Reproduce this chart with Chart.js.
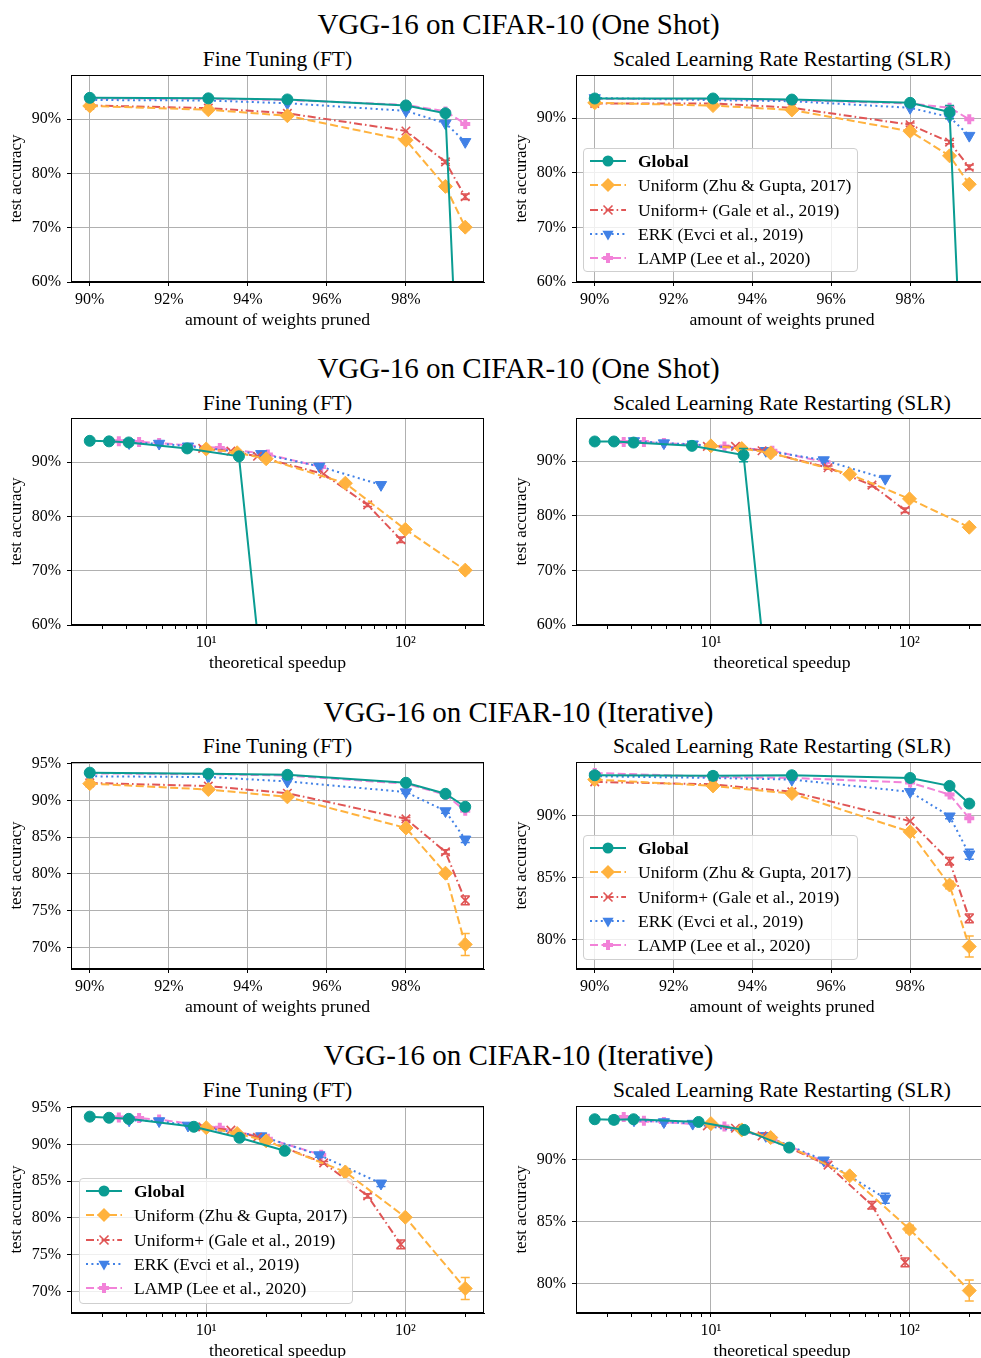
<!DOCTYPE html>
<html><head><meta charset="utf-8">
<script src="https://cdn.jsdelivr.net/npm/chart.js@4.4.0/dist/chart.umd.min.js"></script>
<style>
html,body{margin:0;padding:0;background:#fff;}
body{width:981px;height:1358px;position:relative;overflow:hidden;font-family:"Liberation Serif","DejaVu Serif",serif;color:#000;}
canvas{position:absolute;}
.sup{position:absolute;left:0;width:1037px;text-align:center;font-size:29px;line-height:32px;white-space:nowrap;}
.sub{position:absolute;text-align:center;font-size:21.5px;line-height:24px;white-space:nowrap;}
.legend{position:absolute;border:1px solid #cfcfcf;border-radius:4px;background:rgba(255,255,255,0.8);box-sizing:border-box;z-index:5;}
.legend .row{position:absolute;left:0;height:20px;width:100%;}
.legend svg{position:absolute;left:4px;top:2px;}
.legend span{position:absolute;left:54px;top:0;font-size:17.5px;line-height:20px;white-space:nowrap;}
</style></head>
<body>
<script>
// ---------------- data ----------------
const sparsity = [90, 93, 95, 98, 99, 99.5];
const methodNames = ['Global', 'Uniform (Zhu & Gupta, 2017)', 'Uniform+ (Gale et al., 2019)', 'ERK (Evci et al., 2019)', 'LAMP (Lee et al., 2020)'];

// theoretical speedup per method (x values of speedup plots)
const speedGlobalOneShot = [2.6, 3.25, 4.08, 8.03, 14.6, 24.8];
const speedGlobalIter    = [2.6, 3.25, 4.08, 8.67, 14.7, 24.8];
const speedUniform       = [10, 14.3, 20, 50, 100, 200];
const speedUniformPlus   = [9.6, 13.3, 18.1, 38.9, 64.7, 95];
const speedERK           = [4.1, 5.8, 8.1, 18.9, 37, 75.5];
const speedLAMP          = [3.64, 4.6, 5.8, 11.7, 20.4, 37.8];

// One shot, Fine Tuning
const osFTGlobal  = [93.9, 93.8, 93.6, 92.5, 91.05, 10];
const osFTUniform = [92.4, 91.7, 90.6, 86.1, 77.6, 70.1];
const osFTUniPlus = [92.5, 92.0, 91.05, 87.8, 82.1, 75.7];
const osFTERK     = [93.5, 93.4, 92.9, 91.5, 89.2, 85.8];
const osFTLAMP    = [93.8, 93.7, 93.5, 92.6, 91.4, 89.1];
const osFTErrUniform = [0, 0, 0, 0, 0.3, 0.5];
const osFTErrUniPlus = [0, 0, 0, 0, 0.3, 0.5];

// One shot, SLR
const osSLRGlobal  = [93.6, 93.6, 93.4, 92.8, 91.1, 10];
const osSLRUniform = [92.8, 92.3, 91.5, 87.6, 83.1, 77.9];
const osSLRUniPlus = [92.7, 92.7, 91.9, 88.8, 85.6, 81.0];
const osSLRERK     = [93.7, 93.3, 93.1, 91.9, 90.2, 86.8];
const osSLRLAMP    = [93.5, 93.5, 93.3, 92.7, 91.9, 89.8];
const osSLRErrGlobal  = [0, 0, 0, 0, 1.2, 0];
const osSLRErrUniPlus = [0, 0, 0, 0.3, 0.3, 0.4];

// Iterative, Fine Tuning
const itFTGlobal  = [93.8, 93.65, 93.5, 92.42, 90.92, 89.15];
const itFTUniform = [92.3, 91.5, 90.5, 86.26, 80.1, 70.4];
const itFTUniPlus = [92.4, 91.97, 91.0, 87.5, 83.0, 76.4];
const itFTERK     = [93.3, 93.2, 92.6, 91.15, 88.57, 84.7];
const itFTLAMP    = [93.7, 93.6, 93.4, 92.3, 90.8, 88.6];
const itFTErrUniform = [0, 0, 0, 0.3, 0.3, 1.5];
const itFTErrUniPlus = [0, 0, 0, 0.2, 0.3, 0.6];
const itFTErrERK     = [0, 0, 0, 0.2, 0.3, 0.4];

// Iterative, SLR
const itSLRGlobal  = [93.28, 93.23, 93.28, 93.06, 92.42, 90.99];
const itSLRUniform = [92.93, 92.42, 91.8, 88.71, 84.41, 79.44];
const itSLRUniPlus = [92.74, 92.55, 91.94, 89.57, 86.34, 81.72];
const itSLRERK     = [93.2, 93.06, 92.93, 91.94, 89.97, 86.9];
const itSLRLAMP    = [93.47, 93.15, 93.06, 92.69, 91.72, 89.8];
const itSLRErrGlobal  = [0, 0.3, 0, 0, 0, 0];
const itSLRErrUniform = [0, 0, 0, 0, 0.3, 0.85];
const itSLRErrUniPlus = [0, 0, 0, 0, 0.3, 0.35];
const itSLRErrERK     = [0, 0, 0, 0, 0.2, 0.4];

// tick labels
const pruneTicks = [90, 92, 94, 96, 98];
const speedTicks = [3, 4, 5, 6, 7, 8, 9, 10, 20, 30, 40, 50, 60, 70, 80, 90, 100, 200];
const speedMajorLabels = {10: '10\u00B9', 100: '10\u00B2'};
const yTicksOneShot = [60, 70, 80, 90];
const yTicksIterFT  = [70, 75, 80, 85, 90, 95];
const yTicksIterSLR = [80, 85, 90];

// ---------------- styles ----------------
const styles = [
  {color: '#0a9c92', dash: [], pointStyle: 'circle', radius: 5.5, rot: 0, pbw: 1},
  {color: '#ffb23e', dash: [8, 3.5], pointStyle: 'rectRot', radius: 7, rot: 0, pbw: 1},
  {color: '#e05555', dash: [8, 3, 1.6, 3], pointStyle: 'crossRot', radius: 6, rot: 0, pbw: 1.6},
  {color: '#4181e6', dash: [2, 3.4], pointStyle: 'triangle', radius: 6.5, rot: 180, pbw: 1},
  {color: '#f282d8', dash: [8, 3.5], pointStyle: 'cross', radius: 5, rot: 0, pbw: 4}
];

Chart.defaults.font.family = '"Liberation Serif", "DejaVu Serif", serif';
Chart.defaults.color = '#000';

const framePlugin = {
  id: 'frame',
  afterDraw(chart) {
    const {ctx, chartArea: a} = chart;
    ctx.save();
    ctx.strokeStyle = '#000';
    ctx.lineWidth = 1;
    const l = Math.round(a.left) + 0.5, t = Math.round(a.top) + 0.5;
    const r = Math.round(a.right) - 0.5, b = Math.round(a.bottom) - 0.5;
    ctx.strokeRect(l, t, r - l, b - t);
    ctx.restore();
  }
};

const errPlugin = {
  id: 'errbars',
  afterDatasetDraw(chart, args) {
    const ds = chart.data.datasets[args.index];
    if (!ds.err) return;
    const {ctx, chartArea: a} = chart;
    const xs = chart.scales.x, ys = chart.scales.y;
    ctx.save();
    ctx.beginPath();
    ctx.rect(a.left, a.top, a.right - a.left, a.bottom - a.top);
    ctx.clip();
    ctx.strokeStyle = ds.borderColor;
    ctx.lineWidth = 1.5;
    ctx.setLineDash([]);
    ds.data.forEach((p, j) => {
      const e = ds.err[j];
      if (!e) return;
      const px = xs.getPixelForValue(p.x);
      const y1 = ys.getPixelForValue(p.y - e), y2 = ys.getPixelForValue(p.y + e);
      ctx.beginPath();
      ctx.moveTo(px, y1); ctx.lineTo(px, y2);
      ctx.moveTo(px - 4.5, y1); ctx.lineTo(px + 4.5, y1);
      ctx.moveTo(px - 4.5, y2); ctx.lineTo(px + 4.5, y2);
      ctx.stroke();
    });
    ctx.restore();
  }
};

const PLOT_H = 207, PAD_T = 10, AXIS_H = 50;

function addText(cls, text, left, top, width) {
  const d = document.createElement('div');
  d.className = cls; d.textContent = text;
  d.style.top = top + 'px';
  d.style.left = left + 'px'; d.style.width = width + 'px';
  document.body.appendChild(d);
}

function makeChart(p) {
  const cv = document.createElement('canvas');
  const W = p.col === 0 ? 494 : 493;
  const H = PAD_T + PLOT_H + AXIS_H;
  const left = p.col === 0 ? 0 : 505;
  cv.width = W; cv.height = H;
  cv.style.left = left + 'px'; cv.style.top = (p.top - PAD_T) + 'px';
  cv.style.width = W + 'px'; cv.style.height = H + 'px';
  document.body.appendChild(cv);

  const isSpeed = p.kind === 'speed';
  const xArrays = isSpeed ? [p.globalSpeed, speedUniform, speedUniformPlus, speedERK, speedLAMP]
                          : [sparsity, sparsity, sparsity, sparsity, sparsity];
  const datasets = methodNames.map((name, i) => {
    const s = styles[i];
    return {
      label: name,
      data: p.acc[i].map((v, j) => ({x: xArrays[i][j], y: v})),
      err: p.err[i],
      borderColor: s.color,
      backgroundColor: s.color,
      borderWidth: 2,
      borderDash: s.dash,
      tension: 0,
      fill: false,
      pointStyle: s.pointStyle,
      pointRadius: s.radius,
      pointRotation: s.rot,
      pointBackgroundColor: s.color,
      pointBorderColor: s.color,
      pointBorderWidth: s.pbw
    };
  });

  const xScale = isSpeed ? {
    type: 'logarithmic', min: 2.093, max: 248.5,
    afterBuildTicks: sc => { sc.ticks = speedTicks.map(v => ({value: v, major: !!speedMajorLabels[v]})); },
    ticks: {autoSkip: false, maxRotation: 0, padding: 4, font: {size: 16},
            callback: v => speedMajorLabels[v] || ''},
    grid: {color: c => (c.tick && c.tick.major) ? '#b0b0b0' : 'rgba(0,0,0,0)', lineWidth: 1,
           tickColor: '#000', tickLength: 4, drawTicks: true},
  } : {
    type: 'linear', min: 89.525, max: 99.975,
    afterBuildTicks: sc => { sc.ticks = pruneTicks.map(v => ({value: v})); },
    ticks: {autoSkip: false, maxRotation: 0, padding: 4, font: {size: 16}, callback: v => v + '%'},
    grid: {color: '#b0b0b0', lineWidth: 1, tickColor: '#000', tickLength: 4, drawTicks: true},
  };
  Object.assign(xScale, {
    border: {display: true, color: '#000', width: 1},
    title: {display: true, text: isSpeed ? 'theoretical speedup' : 'amount of weights pruned',
            font: {size: 17.7}, padding: {top: 0, bottom: 1}},
    afterFit: sc => { sc.height = AXIS_H; sc.paddingLeft = 0; sc.paddingRight = 0; }
  });

  new Chart(cv, {
    type: 'line',
    data: {datasets},
    options: {
      responsive: false, animation: false,
      layout: {padding: {top: PAD_T, right: 10, left: 0, bottom: 0}},
      plugins: {legend: {display: false}, tooltip: {enabled: false}},
      scales: {
        x: xScale,
        y: {
          type: 'linear', min: p.yMin, max: p.yMax,
          afterBuildTicks: sc => { sc.ticks = p.yTicks.map(v => ({value: v})); },
          ticks: {autoSkip: false, padding: 6, font: {size: 16}, callback: v => v + '%'},
          grid: {color: '#b0b0b0', lineWidth: 1, tickColor: '#000', tickLength: 4, drawTicks: true},
          border: {display: true, color: '#000', width: 1},
          title: {display: true, text: 'test accuracy', font: {size: 17}, padding: {top: 6, bottom: 0}},
          afterFit: sc => { sc.width = 71; sc.paddingTop = 0; sc.paddingBottom = 0; }
        }
      }
    },
    plugins: [framePlugin, errPlugin]
  });
}

function makeLegend(left, top, w, h) {
  const box = document.createElement('div');
  box.className = 'legend';
  box.style.left = left + 'px'; box.style.top = top + 'px';
  box.style.width = w + 'px'; box.style.height = h + 'px';
  methodNames.forEach((name, i) => {
    const s = styles[i];
    const row = document.createElement('div');
    row.className = 'row';
    row.style.top = (2 + i * 24.3) + 'px';
    const dash = s.dash.length ? s.dash.join(',') : 'none';
    let marker = '';
    const c = s.color;
    if (i === 0) marker = `<circle cx="20" cy="8" r="5.5" fill="${c}"/>`;
    if (i === 1) marker = `<polygon points="20,1 27,8 20,15 13,8" fill="${c}"/>`;
    if (i === 2) marker = `<path d="M15.5,3.5 L24.5,12.5 M24.5,3.5 L15.5,12.5" stroke="${c}" stroke-width="1.6"/>`;
    if (i === 3) marker = `<polygon points="14.4,4.7 25.6,4.7 20,14.5" fill="${c}"/>`;
    if (i === 4) marker = `<path d="M20,3 V13 M15,8 H25" stroke="${c}" stroke-width="4"/>`;
    row.innerHTML = `<svg width="40" height="16" viewBox="0 0 40 16"><line x1="2" y1="8" x2="38" y2="8" stroke="${c}" stroke-width="2" stroke-dasharray="${dash}"/>${marker}</svg><span${i === 0 ? ' style="font-weight:bold"' : ''}>${name.replace('&', '&amp;')}</span>`;
    box.appendChild(row);
  });
  document.body.appendChild(box);
}

// ---------------- layout ----------------
const rows = [
  {sup: 'VGG-16 on CIFAR-10 (One Shot)', supY: 24, subY: 59},
  {sup: 'VGG-16 on CIFAR-10 (One Shot)', supY: 368, subY: 403},
  {sup: 'VGG-16 on CIFAR-10 (Iterative)', supY: 712, subY: 746},
  {sup: 'VGG-16 on CIFAR-10 (Iterative)', supY: 1055, subY: 1090}
];
rows.forEach(r => {
  addText('sup', r.sup, 0, r.supY - 16, 1037);
  addText('sub', 'Fine Tuning (FT)', 71, r.subY - 12, 413);
  addText('sub', 'Scaled Learning Rate Restarting (SLR)', 576, r.subY - 12, 412);
});

const panels = [
  {col: 0, top: 75, kind: 'prune', yMin: 60, yMax: 98.1, yTicks: yTicksOneShot,
   acc: [osFTGlobal, osFTUniform, osFTUniPlus, osFTERK, osFTLAMP], err: [null, osFTErrUniform, osFTErrUniPlus, null, null]},
  {col: 1, top: 75, kind: 'prune', yMin: 60, yMax: 97.9, yTicks: yTicksOneShot,
   acc: [osSLRGlobal, osSLRUniform, osSLRUniPlus, osSLRERK, osSLRLAMP], err: [osSLRErrGlobal, null, osSLRErrUniPlus, null, null]},
  {col: 0, top: 418, kind: 'speed', globalSpeed: speedGlobalOneShot, yMin: 60, yMax: 98.1, yTicks: yTicksOneShot,
   acc: [osFTGlobal, osFTUniform, osFTUniPlus, osFTERK, osFTLAMP], err: [null, osFTErrUniform, osFTErrUniPlus, null, null]},
  {col: 1, top: 418, kind: 'speed', globalSpeed: speedGlobalOneShot, yMin: 60, yMax: 97.9, yTicks: yTicksOneShot,
   acc: [osSLRGlobal, osSLRUniform, osSLRUniPlus, osSLRERK, osSLRLAMP], err: [osSLRErrGlobal, null, osSLRErrUniPlus, null, null]},
  {col: 0, top: 762, kind: 'prune', yMin: 67.05, yMax: 95.25, yTicks: yTicksIterFT,
   acc: [itFTGlobal, itFTUniform, itFTUniPlus, itFTERK, itFTLAMP], err: [null, itFTErrUniform, itFTErrUniPlus, itFTErrERK, null]},
  {col: 1, top: 762, kind: 'prune', yMin: 77.63, yMax: 94.35, yTicks: yTicksIterSLR,
   acc: [itSLRGlobal, itSLRUniform, itSLRUniPlus, itSLRERK, itSLRLAMP], err: [itSLRErrGlobal, itSLRErrUniform, itSLRErrUniPlus, itSLRErrERK, null]},
  {col: 0, top: 1106, kind: 'speed', globalSpeed: speedGlobalIter, yMin: 67.05, yMax: 95.25, yTicks: yTicksIterFT,
   acc: [itFTGlobal, itFTUniform, itFTUniPlus, itFTERK, itFTLAMP], err: [null, itFTErrUniform, itFTErrUniPlus, itFTErrERK, null]},
  {col: 1, top: 1106, kind: 'speed', globalSpeed: speedGlobalIter, yMin: 77.63, yMax: 94.35, yTicks: yTicksIterSLR,
   acc: [itSLRGlobal, itSLRUniform, itSLRUniPlus, itSLRERK, itSLRLAMP], err: [itSLRErrGlobal, itSLRErrUniform, itSLRErrUniPlus, itSLRErrERK, null]}
];
panels.forEach(makeChart);

makeLegend(583, 148, 275, 124);
makeLegend(583, 835, 275, 125);
makeLegend(79, 1178, 274, 126);
</script>
</body></html>
